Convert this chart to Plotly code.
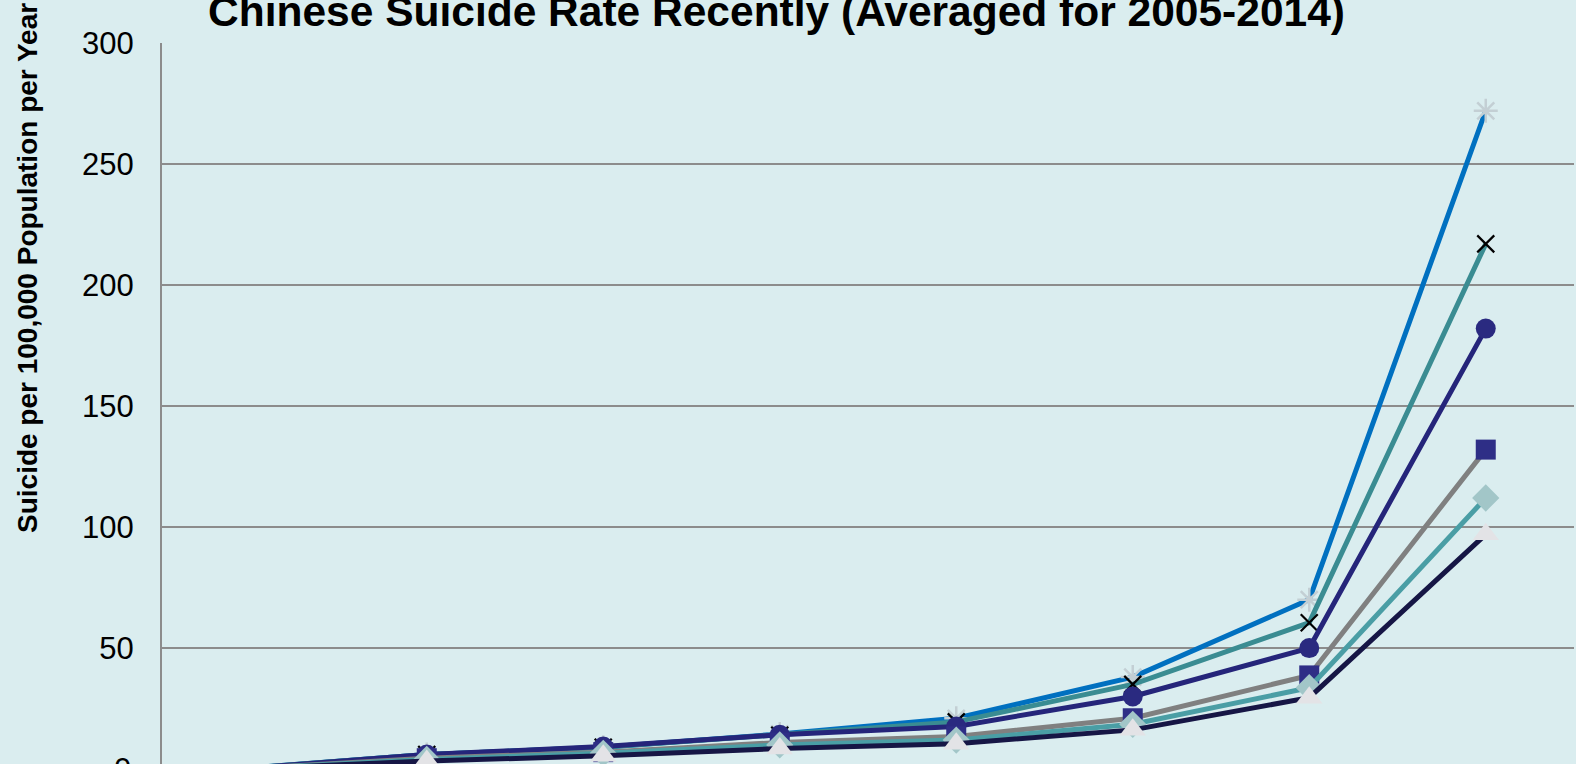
import plotly.graph_objects as go

categories = ["5-14", "15-24", "25-34", "35-44", "45-54", "55-64", "65-74", "75+"]
series_names = ["Series 1", "Series 2", "Series 3", "Series 4", "Series 5", "Series 6"]
s1 = [0.5, 6, 9, 14.5, 21, 38, 70, 272]
s2 = [0.5, 6, 9, 14, 19.5, 35, 60.5, 217]
s3 = [0.4, 6, 9.3, 14.2, 17.6, 30, 50, 182]
s4 = [0.3, 4.5, 7, 11, 13.5, 21, 38.7, 132]
s5 = [0.3, 4, 6.5, 10, 12, 18.5, 33.6, 112]
s6 = [0.2, 3.3, 5.5, 8.5, 10.5, 16.2, 29.5, 97]
y_ticks = [0, 50, 100, 150, 200, 250, 300]
y_range = [2.1, 300]

series = [s1, s2, s3, s4, s5, s6]
line_colors = ["#0070C0", "#3A8C92", "#25257A", "#808080", "#4A9EA5", "#161645"]
marker_styles = [
    dict(symbol="asterisk-open", size=20, color="#C3CFD4", line=dict(color="#C3CFD4", width=2.5)),
    dict(symbol="x-thin-open", size=17, color="#000000", line=dict(color="#000000", width=2.2)),
    dict(symbol="circle", size=20, color="#2A2A80", line=dict(width=0)),
    dict(symbol="square", size=20, color="#2E2E86", line=dict(width=0)),
    dict(symbol="diamond", size=21, color="#A2C6C8", line=dict(width=0)),
    dict(symbol="triangle-up", size=23, color="#E3E3E6", line=dict(width=0)),
]

fig = go.Figure()
for name, vals, lc, ms in zip(series_names, series, line_colors, marker_styles):
    fig.add_trace(go.Scatter(
        x=categories, y=vals, name=name, mode="lines+markers",
        line=dict(color=lc, width=5), marker=ms, cliponaxis=False,
    ))

bg = "#DAEDEF"
fig.update_layout(
    width=1576, height=764,
    margin=dict(l=162, r=2, t=43, b=0),
    paper_bgcolor=bg, plot_bgcolor=bg,
    showlegend=False,
    font=dict(family="Liberation Sans, Arial", color="#000000"),
)
fig.update_xaxes(
    type="category", range=[-0.5, 7.5], showgrid=False, showticklabels=False,
    zeroline=False, showline=False,
)
fig.update_yaxes(
    range=y_range, tickvals=y_ticks, ticks="", ticklabelstandoff=20,
    tickfont=dict(size=31, family="Liberation Sans, Arial", color="#000000"),
    showgrid=True, gridcolor="#8C8C8C", gridwidth=2,
    zeroline=False, showline=True, linecolor="#8C8C8C", linewidth=2,
)
# partially visible "0" tick label at the cut-off bottom edge (paper coords so it is not hidden)
zero_paper_y = (y_ticks[0] - y_range[0]) / (y_range[1] - y_range[0])
fig.add_annotation(
    text="0", xref="paper", yref="paper", x=(133 - 162) / 1412, y=zero_paper_y,
    xanchor="right", yanchor="middle", showarrow=False,
    font=dict(size=31, family="Liberation Sans, Arial", color="#000000"),
)
fig.add_annotation(
    text="<b>Chinese Suicide Rate Recently (Averaged for 2005-2014)</b>",
    xref="paper", yref="paper", x=0.4352, y=1.043, xanchor="center", yanchor="middle",
    showarrow=False, font=dict(size=42.5, family="Liberation Sans, Arial", color="#000000"),
)
fig.add_annotation(
    text="<b>Suicide per 100,000 Population per Year</b>",
    xref="paper", yref="paper", x=(27 - 162) / 1412, y=(764 - 268) / 721,
    xanchor="center", yanchor="middle", textangle=-90, showarrow=False,
    font=dict(size=28, family="Liberation Sans, Arial", color="#000000"),
)
fig.write_html(
    "out.html",
    config={"displayModeBar": False},
    post_script="document.body.style.margin='0';document.body.style.overflow='hidden';",
)
